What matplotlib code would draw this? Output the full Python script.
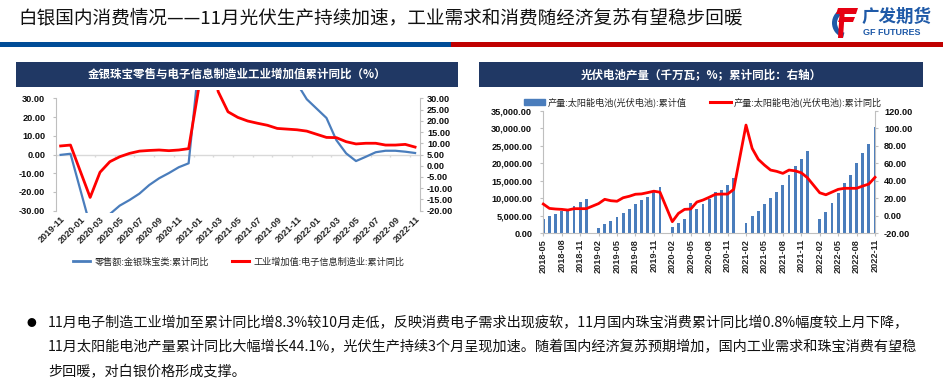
import numpy as np
import pandas as pd
import matplotlib
matplotlib.use('Agg')
import matplotlib.pyplot as plt
from matplotlib.patches import Rectangle, Patch, Polygon, Wedge
from matplotlib.lines import Line2D
from matplotlib.transforms import Bbox, TransformedBbox

plt.rcParams['font.family'] = ['Noto Sans CJK SC', 'DejaVu Sans']

W, H = 943, 390

# 左图：金银珠宝零售 / 电子信息制造业增加值 累计同比（1月无数据）
months_l = pd.period_range('2019-11', '2022-11', freq='M').strftime('%Y-%m').tolist()
jewelry = [-0.2, 0.4, None, -38.0, -35.5, -31.8, -27.3, -24.3, -20.9, -16.3, -12.7, -9.9, -6.8, -4.7,
           None, 98.1, 84.7, 73.1, 64.5, 60.9, 54.0, 47.6, 41.6, 38.9, 38.0, 29.5,
           None, 19.5, 7.7, 0.6, -3.5, -1.2, 1.2, 2.0, 2.0, 1.5, 0.8]
electronics = [8.8, 9.2, None, -14.1, -2.9, 1.8, 4.0, 5.5, 6.5, 6.8, 7.0, 6.7, 7.0, 7.6,
               None, 60.0, 33.0, 24.0, 21.5, 19.9, 18.9, 18.0, 16.6, 16.3, 16.0, 15.4,
               None, 12.6, 12.5, 10.7, 9.7, 10.0, 10.0, 9.2, 9.2, 9.5, 8.3]

# 右图：太阳能电池产量累计值（千万瓦）及累计同比（%）
months_r = pd.period_range('2018-05', '2022-11', freq='M').strftime('%Y-%m').tolist()
pv_output = [4090, 4860, 5620, 6290, 6950, 7900, 8870, 9810,
             None, 1620, 2670, 3430, 4570, 5910, 6860, 8290, 9530, 10390, 11900, 13150,
             None, 1710, 2860, 4090, 8760, 6950, 8380, 9810, 11700, 12400, 13900, 15900,
             None, 3040, 4950, 6380, 8290, 10000, 11900, 13700, 16700, 19300, 21200, 23600,
             None, 4090, 6190, 8570, 11600, 14300, 16800, 20000, 23100, 25600, 30300]
pv_yoy = [13.5, 8.5, 7.8, 7.4, 6.6, 8.2, 8.2, 8.2,
          None, 14.0, 18.9, 17.3, 16.7, 20.7, 22.4, 24.7, 25.1, 26.6, 28.2, 27.0,
          None, -6.7, 2.8, 7.4, 7.8, 15.8, 18.1, 21.2, 24.6, 24.9, 24.9, 30.3,
          None, 103.9, 77.2, 64.7, 58.1, 52.4, 50.9, 48.6, 52.4, 51.5, 49.3, 43.6,
          None, 26.4, 24.1, 27.2, 30.3, 31.5, 31.5, 31.5, 34.1, 36.4, 44.1]

header = '白银国内消费情况——11月光伏生产持续加速，工业需求和消费随经济复苏有望稳步回暖'
title_l = '金银珠宝零售与电子信息制造业工业增加值累计同比（%）'
title_r = '光伏电池产量（千万瓦；%；累计同比：右轴）'
legend_l = ['零售额:金银珠宝类:累计同比', '工业增加值:电子信息制造业:累计同比']
legend_r = ['产量:太阳能电池(光伏电池):累计值', '产量:太阳能电池(光伏电池):累计同比']
body = ['11月电子制造工业增加至累计同比增8.3%较10月走低，反映消费电子需求出现疲软，11月国内珠宝消费累计同比增0.8%幅度较上月下降，',
        '11月太阳能电池产量累计同比大幅增长44.1%，光伏生产持续3个月呈现加速。随着国内经济复苏预期增加，国内工业需求和珠宝消费有望稳',
        '步回暖，对白银价格形成支撑。']

BLUE = '#4A7DBC'
RED = '#FF0000'
NAVY = '#203864'
GREY = '#BFBFBF'
TICKFONT = dict(family='Liberation Sans', weight='bold', size=6.6)


def box(x0, y0, x1, y1):
    return [x0 / W, 1 - y1 / H, (x1 - x0) / W, (y1 - y0) / H]


def valid(vals):
    idx = [i for i, v in enumerate(vals) if v is not None]
    return idx, [vals[i] for i in idx]


def style_ticks(ax, which):
    for lab in (ax.get_yticklabels() if which == 'y' else ax.get_xticklabels()):
        lab.set_fontproperties(matplotlib.font_manager.FontProperties(**TICKFONT))
        lab.set_color('#0D0D0D')


fig = plt.figure(figsize=(W / 100, H / 100), dpi=100)

# 背景层（像素坐标）
ov = fig.add_axes([0, 0, 1, 1])
ov.set_xlim(0, W)
ov.set_ylim(H, 0)
ov.axis('off')

ov.text(18, 18, header, fontsize=13.4, va='center', ha='left', color='#111111')
ov.add_patch(Rectangle((0, 41.5), 451, 5.5, color='#004C97', lw=0))
ov.add_patch(Rectangle((451, 41.5), W - 451, 5.5, color='#C00000', lw=0))

# logo
ov.add_patch(Wedge((847, 23), 15, 105, 255, width=5, color='#1F5AA8', lw=0))
ov.add_patch(Polygon([(838, 8), (858, 8), (856, 14), (836, 14)], color='#E60012', lw=0))
ov.add_patch(Polygon([(840, 17), (855, 17), (853, 22), (838, 22)], color='#E60012', lw=0))
ov.add_patch(Polygon([(840, 8), (845, 8), (843, 38), (838, 38)], color='#E60012', lw=0))
ov.text(862, 17, '广发期货', fontsize=12.6, weight='bold', color='#1F5AA8', va='center', ha='left')
ov.text(863, 32.5, 'GF FUTURES', fontsize=6.5, weight='bold', color='#1F5AA8', va='center', ha='left',
        family='Liberation Sans')

# 标题栏
for (x0, x1, t) in [(16, 458, title_l), (479, 923, title_r)]:
    ov.add_patch(Rectangle((x0, 62), x1 - x0, 25, color=NAVY, lw=0))
    ov.text((x0 + x1) / 2, 74.5, t, fontsize=8.3, weight='bold', color='white', ha='center', va='center')

# 文字说明
ov.text(31, 323, '●', fontsize=7, ha='center', va='center', color='black')
for k, line in enumerate(body):
    ov.text(48, 323 + k * 24.5, line, fontsize=10.2, ha='left', va='center', color='#111111')

# ---------- 左图 ----------
ax1 = fig.add_axes(box(55.7, 98.3, 420, 210.7))
ax1.patch.set_alpha(0)
ax1.set_xlim(-0.5, len(months_l) - 0.5)
ax1.set_ylim(-30, 30)
ax1.set_yticks(np.arange(-30, 31, 10))
ax1.yaxis.set_major_formatter(lambda v, p: f'{v:.2f}')
ax1.set_xticks(range(0, len(months_l), 2))
ax1.set_xticklabels(months_l[::2], rotation=45, ha='right', rotation_mode='anchor')
ax1.tick_params(axis='x', length=0, pad=3)
ax1.tick_params(axis='y', length=2, pad=5.5, color=GREY, width=0.8)
for s in ['top', 'right', 'bottom']:
    ax1.spines[s].set_visible(False)
ax1.spines['left'].set_color(GREY)
ax1.axhline(0, color='#D9D9D9', lw=1, zorder=1)
ax1.vlines(np.arange(-0.5, len(months_l), 2), -1.6, 0, color='#D9D9D9', lw=1, zorder=1)

ax2 = ax1.twinx()
ax2.set_ylim(-20, 30)
ax2.set_yticks(np.arange(-20, 31, 5))
ax2.yaxis.set_major_formatter(lambda v, p: f'{v:.2f}')
ax2.tick_params(axis='y', length=2, pad=3, color=GREY, width=0.8)
for s in ['top', 'left', 'bottom']:
    ax2.spines[s].set_visible(False)
ax2.spines['right'].set_color(GREY)

clip_l = TransformedBbox(Bbox([[0, -0.02], [1, 1.075]]), ax1.transAxes)
i, v = valid(jewelry)
l1, = ax1.plot(i, v, color=BLUE, lw=1.6, zorder=3)
l1.set_clip_box(clip_l)
i, v = valid(electronics)
l2, = ax2.plot(i, v, color=RED, lw=2.0, zorder=3)
l2.set_clip_box(clip_l)

style_ticks(ax1, 'x')
style_ticks(ax1, 'y')
style_ticks(ax2, 'y')
for lab in ax1.get_xticklabels():
    lab.set_color('#262626')

fig.legend(handles=[Line2D([], [], color=BLUE, lw=2), Line2D([], [], color=RED, lw=2.2)],
           labels=legend_l, loc='center', bbox_to_anchor=(238.5 / W, 1 - 262 / H), ncol=2,
           frameon=False, fontsize=6.6, handlelength=1.9, handletextpad=0.45, columnspacing=2.5,
           labelcolor='#262626')

# ---------- 右图 ----------
ax3 = fig.add_axes(box(543.3, 111, 875, 233.3))
ax3.patch.set_alpha(0)
i, v = valid(pv_output)
ax3.bar(i, v, width=0.45, color=BLUE, zorder=2)
ax3.set_xlim(0, len(months_r) - 1)
ax3.set_ylim(0, 35000)
ax3.set_yticks(np.arange(0, 35001, 5000))
ax3.yaxis.set_major_formatter(lambda v, p: f'{v:,.2f}')
ax3.set_xticks(range(0, len(months_r), 3))
ax3.set_xticklabels(months_r[::3], rotation=90, ha='center', va='top')
ax3.tick_params(axis='x', length=2, pad=2, color=GREY, width=0.8)
ax3.tick_params(axis='y', length=2, pad=6, color=GREY, width=0.8)
ax3.spines['top'].set_visible(False)
ax3.spines['right'].set_visible(False)
for s in ['left', 'bottom']:
    ax3.spines[s].set_color(GREY)

ax4 = ax3.twinx()
ax4.set_ylim(-20, 120)
ax4.set_yticks(np.arange(-20, 121, 20))
ax4.yaxis.set_major_formatter(lambda v, p: f'{v:.2f}')
ax4.tick_params(axis='y', length=2, pad=4.5, color=GREY, width=0.8)
for s in ['top', 'left', 'bottom']:
    ax4.spines[s].set_visible(False)
ax4.spines['right'].set_color(GREY)
i, v = valid(pv_yoy)
ax4.plot(i, v, color=RED, lw=2.0, zorder=3, clip_on=False)

style_ticks(ax3, 'x')
style_ticks(ax3, 'y')
style_ticks(ax4, 'y')
for lab in ax3.get_xticklabels():
    lab.set_color('#262626')

fig.legend(handles=[Patch(color=BLUE), Line2D([], [], color=RED, lw=2.2)],
           labels=legend_r, loc='center', bbox_to_anchor=(703 / W, 1 - 102.5 / H), ncol=2,
           frameon=False, fontsize=6.6, handlelength=2.3, handleheight=0.7, handletextpad=0.25,
           columnspacing=2.6, labelcolor='#262626')

fig.savefig('out.png', dpi=100)
